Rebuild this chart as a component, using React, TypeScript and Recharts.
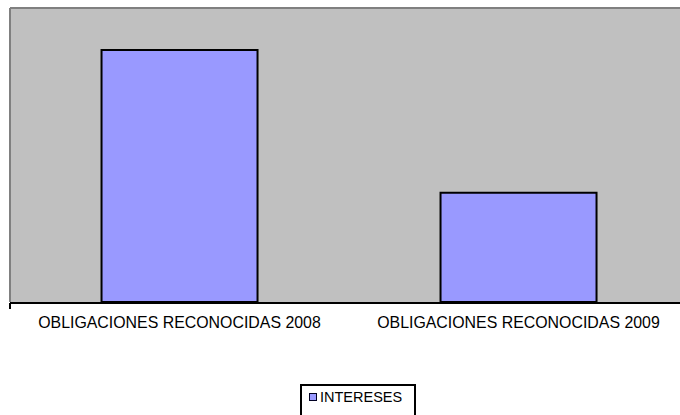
import React from 'react';
import { BarChart, Bar, XAxis, YAxis, CartesianGrid, Legend, ReferenceLine } from 'recharts';

const categories = ['OBLIGACIONES RECONOCIDAS 2008', 'OBLIGACIONES RECONOCIDAS 2009'];
const intereses = [300, 130];
const seriesName = 'INTERESES';

const data = categories.map((name, i) => ({ name, value: intereses[i] }));

const font = '"Liberation Sans", Arial, sans-serif';

// legend box runs past the bottom edge of the picture, like the original
const LegendBox = () => (
  <div
    style={{
      boxSizing: 'border-box',
      width: 116,
      height: 40,
      border: '2px solid #000',
      background: '#fff',
      paddingTop: 2.6,
      paddingLeft: 7.3,
      fontFamily: font,
      fontSize: 14.5,
      lineHeight: 'normal',
      color: '#000',
    }}
  >
    <div style={{ display: 'flex', alignItems: 'center' }}>
      <span
        style={{
          boxSizing: 'border-box',
          display: 'inline-block',
          width: 8,
          height: 8,
          background: '#9999ff',
          border: '1.5px solid #000022',
          marginRight: 2.7,
        }}
      />
      {seriesName}
    </div>
  </div>
);

// empty tick: keeps the tick lines, hides the numbers
const NoLabel = () => <g />;

export default function App() {
  return (
    <div style={{ position: 'absolute', left: 0, top: 0, width: 680, height: 415, overflow: 'hidden', background: '#fff' }}>
      <BarChart
        width={688}
        height={415}
        data={data}
        margin={{ top: 8, right: 0, left: 9, bottom: 111 }}
        barCategoryGap="27%"
      >
        <CartesianGrid xAxisId="cat" fill="#c0c0c0" horizontal={false} vertical={false} />
        <XAxis
          xAxisId="edges"
          type="number"
          domain={[0, 2]}
          ticks={[0, 1, 2]}
          allowDataOverflow
          height={1}
          tick={NoLabel}
          tickSize={6}
          axisLine={{ stroke: '#000', strokeWidth: 2 }}
          tickLine={{ stroke: '#000', strokeWidth: 2 }}
        />
        <XAxis
          xAxisId="cat"
          dataKey="name"
          height={1}
          axisLine={false}
          tickLine={false}
          tickSize={0}
          tickMargin={15}
          interval={0}
          tick={{ fill: '#000', fontSize: 15.9, fontFamily: font }}
        />
        <YAxis
          domain={[0, 350]}
          width={1}
          tick={false}
          tickLine={false}
          axisLine={{ stroke: '#808080', strokeWidth: 2 }}
        />
        <ReferenceLine xAxisId="cat" y={350} stroke="#808080" strokeWidth={2} />
        <Bar
          xAxisId="cat"
          dataKey="value"
          name={seriesName}
          fill="#9999ff"
          stroke="#000"
          strokeWidth={2}
          isAnimationActive={false}
        />
        <Legend
          layout="horizontal"
          verticalAlign="middle"
          align="center"
          content={() => <LegendBox />}
          wrapperStyle={{ top: 384, left: 300, width: 116, height: 40 }}
        />
      </BarChart>
    </div>
  );
}
